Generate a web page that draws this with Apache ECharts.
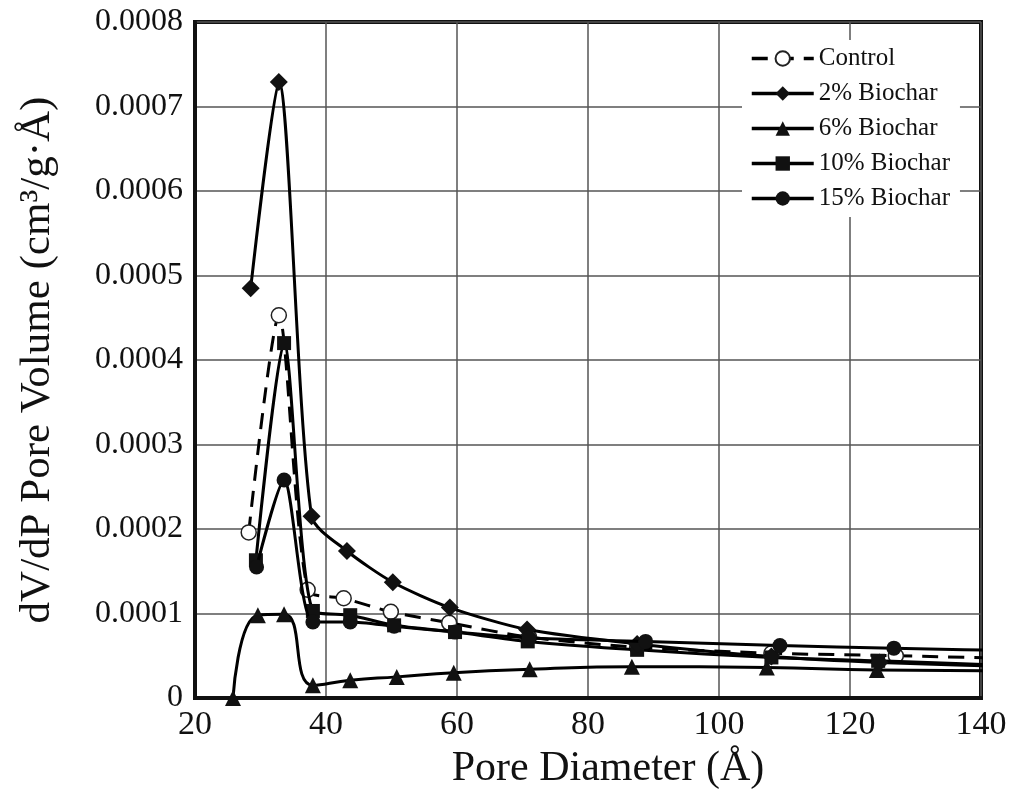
<!DOCTYPE html>
<html>
<head>
<meta charset="utf-8">
<title>Pore size distribution</title>
<script src="https://cdn.jsdelivr.net/npm/echarts@6/dist/echarts.min.js"></script>
<style>
  html, body { margin: 0; padding: 0; background: #fff; }
  #main { width: 1009px; height: 793px; }
</style>
</head>
<body>
<div id="main"></div>
<script type="text/javascript">
// pore diameter (Å) and dV/dP (x 1e-4 cm3/g·Å)
var controlX = [28.2, 32.8, 37.2, 42.7, 49.9, 58.8, 71.0, 87.5, 108.0, 127.0, 150];
var controlY = [1.96, 4.53, 1.28, 1.18, 1.02, 0.89, 0.72, 0.60, 0.53, 0.50, 0.46];

var bc2X = [28.5, 32.8, 37.8, 43.2, 50.2, 58.9, 70.7, 87.5, 108.0, 124.5, 150];
var bc2Y = [4.85, 7.29, 2.15, 1.74, 1.37, 1.07, 0.81, 0.64, 0.49, 0.42, 0.36];

var bc6X = [25.8, 29.6, 33.6, 38.0, 43.7, 50.8, 59.5, 71.1, 86.7, 107.3, 124.1, 150];
var bc6Y = [0.00, 0.98, 0.99, 0.15, 0.21, 0.25, 0.30, 0.34, 0.37, 0.36, 0.33, 0.32];

var bc10X = [29.3, 33.6, 38.0, 43.7, 50.4, 59.7, 70.8, 87.5, 108.0, 124.3, 150];
var bc10Y = [1.63, 4.20, 1.03, 0.98, 0.86, 0.78, 0.67, 0.57, 0.48, 0.44, 0.37];

var bc15X = [29.4, 33.6, 38.0, 43.7, 50.4, 59.7, 71.0, 88.8, 109.3, 126.7, 150];
var bc15Y = [1.55, 2.58, 0.90, 0.90, 0.85, 0.78, 0.71, 0.67, 0.62, 0.59, 0.55];

var xTicks = [20, 40, 60, 80, 100, 120, 140];

function pairs(xs, ys) {
    return xs.map(function (x, i) { return [x, ys[i] * 1e-4]; });
}

var serif = "'Liberation Serif', 'DejaVu Serif', serif";
var myChart = echarts.init(document.getElementById('main'), null, { renderer: 'canvas' });

function lineSeries(name, data, symbol, size, extra) {
    var s = {
        name: name,
        type: 'line',
        data: data,
        smooth: 0.25,
        symbol: symbol,
        symbolSize: size,
        showAllSymbol: true,
        clip: true,
        lineStyle: { color: '#000', width: 3 },
        itemStyle: { color: '#111', borderColor: '#111', borderWidth: 0 }
    };
    for (var k in extra) s[k] = extra[k];
    return s;
}

myChart.setOption({
    animation: false,
    backgroundColor: '#fff',
    textStyle: { fontFamily: serif, color: '#111' },
    grid: {
        left: 195, right: 28, top: 22, bottom: 95,
        containLabel: false,
        outerBoundsMode: 'none',
        show: true, borderColor: '#111', borderWidth: 4
    },
    legend: {
        orient: 'vertical',
        left: 742, top: 40,
        backgroundColor: '#fff',
        padding: [6, 10, 6, 8],
        itemWidth: 62, itemHeight: 18, itemGap: 10,
        lineStyle: { width: 3.5 },
        textStyle: { fontFamily: serif, fontSize: 25, color: '#111' },
        data: ['Control', '2% Biochar', '6% Biochar', '10% Biochar', '15% Biochar']
    },
    xAxis: {
        type: 'value',
        min: xTicks[0], max: xTicks[xTicks.length - 1], interval: 20,
        name: 'Pore Diameter (Å)',
        nameLocation: 'middle',
        nameGap: 50,
        nameTextStyle: { fontFamily: serif, fontSize: 42, color: '#111', padding: [0, 0, 0, 40] },
        axisLine: { lineStyle: { color: '#111', width: 4 } },
        axisTick: { show: false },
        axisLabel: { fontFamily: serif, fontSize: 34, color: '#111', margin: 10 },
        splitLine: { lineStyle: { color: '#555', width: 1.5 } }
    },
    yAxis: {
        type: 'value',
        min: 0, max: 0.0008, interval: 0.0001,
        name: 'dV/dP Pore Volume (cm³/g·Å)',
        nameLocation: 'middle',
        nameGap: 136,
        nameTextStyle: { fontFamily: serif, fontSize: 43, color: '#111' },
        axisLine: { lineStyle: { color: '#111', width: 4 } },
        axisTick: { show: false },
        axisLabel: {
            fontFamily: serif, fontSize: 32, color: '#111', margin: 12,
            formatter: function (v) { return v === 0 ? '0' : v.toFixed(4); }
        },
        splitLine: { lineStyle: { color: '#555', width: 1.5 } }
    },
    series: [
        lineSeries('Control', pairs(controlX, controlY), 'circle', 15, {
            z: 1,
            lineStyle: { color: '#000', width: 3, type: [16, 10] },
            itemStyle: { color: '#fff', borderColor: '#222', borderWidth: 1.5 }
        }),
        lineSeries('6% Biochar', pairs(bc6X, bc6Y), 'triangle', 16, { z: 2, smooth: 0.5 }),
        lineSeries('10% Biochar', pairs(bc10X, bc10Y), 'rect', 14, { z: 3 }),
        lineSeries('2% Biochar', pairs(bc2X, bc2Y), 'diamond', 18, { z: 4 }),
        lineSeries('15% Biochar', pairs(bc15X, bc15Y), 'circle', 15, { z: 5 })
    ]
});
</script>
</body>
</html>
